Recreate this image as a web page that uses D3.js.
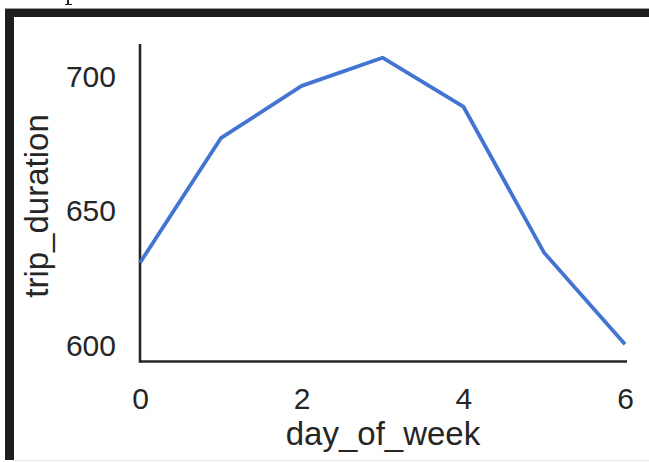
<!DOCTYPE html>
<html>
<head>
<meta charset="utf-8">
<script src="https://cdn.jsdelivr.net/npm/d3@7"></script>
<style>
  html, body { margin: 0; padding: 0; background: #fff; }
  svg { display: block; }
  text { font-family: "Liberation Sans", Arial, sans-serif; fill: #262626; }
</style>
</head>
<body>
<svg id="chart" width="649" height="462"></svg>
<script>
const days = [0, 1, 2, 3, 4, 5, 6];
const tripDuration = [630.4, 676.8, 696.3, 706.8, 688.6, 634.1, 600.0];
const xTicks = [0, 2, 4, 6];
const yTicks = [600, 650, 700];
const xLabel = "day_of_week";
const yLabel = "trip_duration";

const svg = d3.select("#chart");

// frame remnants from the screenshot
svg.append("rect").attr("x", 0).attr("y", 0).attr("width", 649).attr("height", 462).attr("fill", "#ffffff");
svg.append("rect").attr("x", 5).attr("y", 8).attr("width", 644).attr("height", 1).attr("fill", "#9a9a9a");
svg.append("rect").attr("x", 5).attr("y", 9).attr("width", 644).attr("height", 8).attr("fill", "#1e1e1e");
svg.append("rect").attr("x", 5).attr("y", 9).attr("width", 9).attr("height", 451).attr("fill", "#1e1e1e");
svg.append("rect").attr("x", 14).attr("y", 460).attr("width", 635).attr("height", 1).attr("fill", "#e4e4e4");
// cropped glyph fragment at the top edge (descender stem with serif foot)
svg.append("rect").attr("x", 67).attr("y", 0).attr("width", 2).attr("height", 4).attr("fill", "#222");
svg.append("rect").attr("x", 65).attr("y", 4).attr("width", 7).attr("height", 1).attr("fill", "#222");

const x = d3.scaleLinear().domain([0, 6]).range([140, 625]);
const y = d3.scaleLinear().domain([593.6, 711.9]).range([361.5, 44]);

// axes (despined: left and bottom only, no tick marks)
const xAxis = svg.append("g").attr("transform", "translate(0,361.5)")
  .call(d3.axisBottom(x).tickValues(xTicks).tickSize(0).tickPadding(0).tickFormat(d3.format("d")));
xAxis.select(".domain").attr("d", `M${x(0)},0H${x(6) + 2}`).attr("stroke", "#262626").attr("stroke-width", 2.6);
xAxis.selectAll("text").attr("font-size", 30).attr("dy", null).attr("y", 47)
  .attr("font-family", null).style("fill", "#262626");

const yAxis = svg.append("g").attr("transform", "translate(140,0)")
  .call(d3.axisLeft(y).tickValues(yTicks).tickSize(0).tickPadding(0).tickFormat(d3.format("d")));
yAxis.select(".domain").attr("d", `M0,${y.range()[1]}V${y.range()[0] + 1.3}`).attr("stroke", "#262626").attr("stroke-width", 2.6);
yAxis.selectAll("text").attr("font-size", 30).attr("x", -24).attr("dy", "0.36em")
  .attr("font-family", null).style("fill", "#262626");
svg.selectAll(".tick line").remove();

// line
const line = d3.line().x((d, i) => x(days[i])).y(d => y(d));
svg.append("path").datum(tripDuration)
  .attr("d", line)
  .attr("fill", "none")
  .attr("stroke", "#4474d2")
  .attr("stroke-width", 3.8)
  .attr("stroke-linejoin", "round");

// axis labels
svg.append("text").attr("x", 383).attr("y", 445).attr("text-anchor", "middle")
  .attr("font-size", 33).text(xLabel);
svg.append("text").attr("transform", "translate(48,206) rotate(-90)").attr("text-anchor", "middle")
  .attr("font-size", 33).text(yLabel);
</script>
</body>
</html>
